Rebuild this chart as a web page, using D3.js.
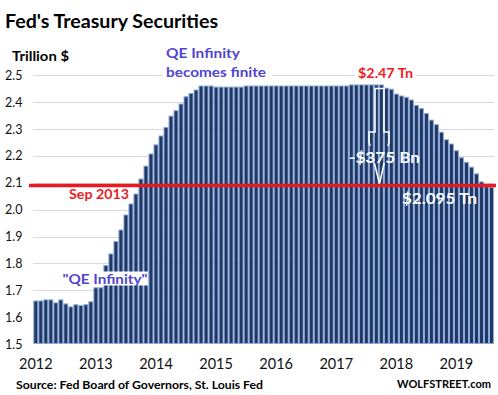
<!DOCTYPE html>
<html>
<head>
<meta charset="utf-8">
<script src="https://cdn.jsdelivr.net/npm/d3@7"></script>
<style>
  body { margin: 0; background: #fff; }
  text { font-family: Lato, "Open Sans", sans-serif; }
</style>
</head>
<body>
<div id="chart"></div>
<script>
width = 498;
height = 395;
chart_margins = {left: 33.3, right: 4, top: 75.3, bottom: 51};

// monthly holdings, trillion $
years = ["2012", "2013", "2014", "2015", "2016", "2017", "2018", "2019"];
v2012 = [1.662, 1.662, 1.666, 1.666, 1.655, 1.666, 1.651, 1.640, 1.648, 1.645, 1.648, 1.659];
v2013 = [1.711, 1.711, 1.794, 1.837, 1.883, 1.926, 1.982, 2.023, 2.060, 2.116, 2.164, 2.209];
v2014 = [2.243, 2.276, 2.308, 2.350, 2.370, 2.395, 2.422, 2.434, 2.447, 2.462, 2.462, 2.462];
v2015 = [2.458, 2.458, 2.458, 2.458, 2.458, 2.458, 2.462, 2.462, 2.462, 2.462, 2.462, 2.462];
v2016 = [2.462, 2.462, 2.462, 2.462, 2.462, 2.462, 2.462, 2.462, 2.462, 2.462, 2.462, 2.462];
v2017 = [2.462, 2.462, 2.462, 2.466, 2.466, 2.466, 2.466, 2.466, 2.466, 2.466, 2.454, 2.450];
v2018 = [2.432, 2.425, 2.420, 2.410, 2.390, 2.378, 2.360, 2.335, 2.318, 2.290, 2.262, 2.246];
v2019 = [2.221, 2.195, 2.178, 2.160, 2.135, 2.105, 2.087, 2.085];
yTicks = [1.5, 1.6, 1.7, 1.8, 1.9, 2.0, 2.1, 2.2, 2.3, 2.4, 2.5];
sep2013Level = 2.09;

var series = [v2012, v2013, v2014, v2015, v2016, v2017, v2018, v2019];
var data = [];
series.forEach(function(vals, yi) {
    vals.forEach(function(v, m) {
        data.push({key: years[yi] + "-" + (m + 1), year: years[yi], month: m, value: v});
    });
});

var xScale = d3.scaleBand().domain(data.map(d => d.key))
    .range([chart_margins.left, width - chart_margins.right]).padding(0);
var yScale = d3.scaleLinear().domain([1.5, 2.5])
    .range([height - chart_margins.bottom, chart_margins.top]);

var svg = d3.select("#chart").append("svg")
    .attr("width", width)
    .attr("height", height);

// gridlines
svg.append("g").selectAll("line")
    .data(yTicks.slice(1))
    .enter().append("line")
    .attr("x1", chart_margins.left)
    .attr("x2", width - chart_margins.right)
    .attr("y1", d => Math.round(yScale(d)) + 0.5)
    .attr("y2", d => Math.round(yScale(d)) + 0.5)
    .attr("stroke", "#d9d9d9")
    .attr("stroke-width", 1);

// y labels
svg.append("g").selectAll("text")
    .data(yTicks)
    .enter().append("text")
    .attr("x", 5)
    .attr("y", d => yScale(d) + 4.5)
    .attr("font-size", 12.5)
    .attr("fill", "#111")
    .text(d => d3.format(".1f")(d));

// label boxes that cut the top gridline
svg.append("rect").attr("x", 162).attr("y", 66).attr("width", 110).attr("height", 14).attr("fill", "#fff");
svg.append("rect").attr("x", 355).attr("y", 68).attr("width", 61).attr("height", 12).attr("fill", "#fff");

// bars
svg.append("g").selectAll("rect")
    .data(data)
    .enter().append("rect")
    .attr("x", d => xScale(d.key) + 0.5)
    .attr("y", d => yScale(d.value) + 0.5)
    .attr("width", xScale.bandwidth() - 1)
    .attr("height", d => yScale(1.5) - yScale(d.value) - 1)
    .attr("fill", "#1f3864")
    .attr("stroke", "#8eaadb")
    .attr("stroke-width", 1);

// Sep 2013 level
svg.append("line")
    .attr("x1", 29)
    .attr("x2", width - 2)
    .attr("y1", yScale(sep2013Level))
    .attr("y2", yScale(sep2013Level))
    .attr("stroke", "#e8191f")
    .attr("stroke-width", 3.4);

// x labels at January of each year
svg.append("g").selectAll("text")
    .data(years)
    .enter().append("text")
    .attr("x", d => xScale(d + "-1") + xScale.bandwidth() / 2)
    .attr("y", 369)
    .attr("text-anchor", "middle")
    .attr("font-size", 14.5)
    .attr("fill", "#111")
    .text(d => d);

// arrow showing the drawdown, gap where the label sits
var clip = svg.append("clipPath").attr("id", "arrowclip");
clip.append("rect").attr("x", 360).attr("y", 80).attr("width", 40).attr("height", 66);
clip.append("rect").attr("x", 360).attr("y", 163).attr("width", 40).attr("height", 30);
var topY = yScale(v2017[6]) + 4;
var tipY = yScale(sep2013Level) - 2;
svg.append("path")
    .attr("d", "M375," + topY + " H384 V132 H389 V142 L379.5," + tipY + " L369,142 V132 H375 Z")
    .attr("fill", "none")
    .attr("stroke", "#fff")
    .attr("stroke-width", 1.6)
    .attr("clip-path", "url(#arrowclip)");

// bold labels, stretched to the widths seen in the original
function label(x, y, txt, size, color, w) {
    return svg.append("text")
        .attr("x", x).attr("y", y)
        .attr("font-size", size)
        .attr("font-weight", "bold")
        .attr("fill", color)
        .attr("textLength", w)
        .attr("lengthAdjust", "spacingAndGlyphs")
        .text(txt);
}

label(5, 28, "Fed's Treasury  Securities", 18.5, "#000", 213);
label(12, 61, "Trillion $", 13.5, "#000", 57);
label(166, 57.5, "QE Infinity", 13.5, "#5045d0", 74);
label(166, 76.5, "becomes finite", 13.5, "#5045d0", 100);
label(358, 78, "$2.47 Tn", 13.5, "#ee1c25", 55);
label(69, 199, "Sep 2013", 13.5, "#ee1c25", 60);
label(349, 163, "-$375 Bn", 14.5, "#fff", 71);
label(402, 204, "$2.095 Tn", 15.5, "#fff", 75);

svg.append("rect").attr("x", 61).attr("y", 271.5).attr("width", 87).attr("height", 14).attr("fill", "#fff");
label(62.5, 284, "\"QE Infinity\"", 13.5, "#5045d0", 85);

label(16, 389, "Source: Fed Board of Governors, St. Louis Fed", 12, "#000", 247);
label(397, 387.5, "WOLFSTREET.com", 11.5, "#000", 94);
</script>
</body>
</html>
